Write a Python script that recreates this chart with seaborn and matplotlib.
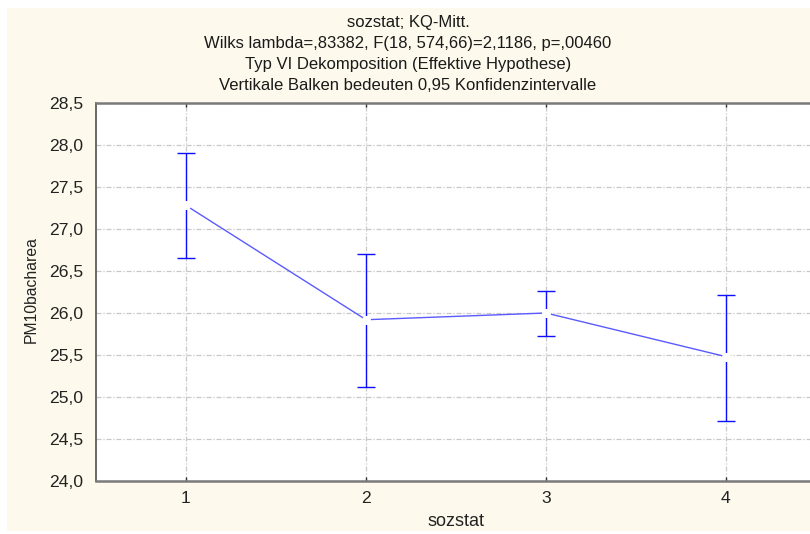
import numpy as np
import matplotlib
matplotlib.use("Agg")
import matplotlib.pyplot as plt
import seaborn as sns
from matplotlib.patches import Rectangle
from matplotlib.ticker import MultipleLocator, FuncFormatter

# Data
sozstat = [1, 2, 3, 4]
means = [27.28, 25.92, 26.00, 25.48]
ci_upper = [27.91, 26.70, 26.26, 26.21]
ci_lower = [26.66, 25.12, 25.73, 24.72]

title_lines = [
    "sozstat; KQ-Mitt.",
    "Wilks lambda=,83382, F(18, 574,66)=2,1186, p=,00460",
    "Typ VI Dekomposition (Effektive Hypothese)",
    "Vertikale Balken bedeuten 0,95 Konfidenzintervalle",
]

sns.set_style("white")
plt.rcParams["font.family"] = ["Liberation Sans", "DejaVu Sans"]

W, H = 810, 534
fig = plt.figure(figsize=(W / 100, H / 100), dpi=100, facecolor="white")

# cream panel behind everything
fig.patches.append(Rectangle((7 / W, 3 / H), 1, (H - 11) / H, transform=fig.transFigure,
                             facecolor="#fdf9ec", edgecolor="none", zorder=-10))

# axes run slightly past the right edge of the image (like the cropped original)
left, right, top, bottom = 96, 816, 103, 481
ax = fig.add_axes([left / W, (H - bottom) / H, (right - left) / W, (bottom - top) / H])
ax.set_facecolor("white")

# confidence bars
yerr = [np.array(means) - np.array(ci_lower), np.array(ci_upper) - np.array(means)]
ax.errorbar(sozstat, means, yerr=yerr, fmt="none", ecolor="#0f0fff", elinewidth=1.0,
            capsize=6.7, capthick=1.0, zorder=3)

# mean line
sns.lineplot(x=sozstat, y=means, ax=ax, color="#5a5aff", linewidth=1.0, zorder=4)
ax.plot(sozstat, means, linestyle="none", marker="o", markersize=6.5,
        markerfacecolor="white", markeredgecolor="none", zorder=5)

ax.set_xlim(0.5, 4.5)
ax.set_ylim(24.0, 28.5)
ax.set_xticks(sozstat)
ax.yaxis.set_major_locator(MultipleLocator(0.5))
ax.yaxis.set_major_formatter(FuncFormatter(lambda v, p: f"{v:.1f}".replace(".", ",")))

ax.grid(True, color="#c8c8c8", linewidth=0.9, linestyle=(0, (4, 1.5, 1, 1.5)), zorder=0)
ax.set_axisbelow(True)

for side in ["top", "bottom"]:
    ax.spines[side].set_color("#7a7a7a")
    ax.spines[side].set_linewidth(1.8)
ax.spines["left"].set_color("#505050")
ax.spines["left"].set_linewidth(1.2)
ax.spines["right"].set_visible(False)

ax.tick_params(axis="y", direction="out", length=4, width=1, color="#505050",
               labelsize=12.6, labelcolor="#222222", pad=5)
ax.tick_params(axis="x", direction="in", length=3, width=1, color="#303030",
               labelsize=12.6, labelcolor="#222222", pad=7, top=True, bottom=True)

ax.set_xlabel("sozstat", fontsize=13, color="#222222")
ax.xaxis.set_label_coords(0.5, -(522 - bottom) / (bottom - top), transform=ax.transAxes)
ax.xaxis.label.set_va("center")
ax.set_ylabel("PM10bacharea", fontsize=11.3, color="#222222")
ax.yaxis.set_label_coords(-(left - 31) / (right - left), (bottom - 290) / (bottom - top))
ax.yaxis.label.set_va("center")

for i, line in enumerate(title_lines):
    fig.text(408 / W, 1 - (23 + i * 20.7) / H, line, ha="center", va="center",
             fontsize=12, color="#1a1a1a")

fig.savefig("out.png", dpi=100, facecolor=fig.get_facecolor())
